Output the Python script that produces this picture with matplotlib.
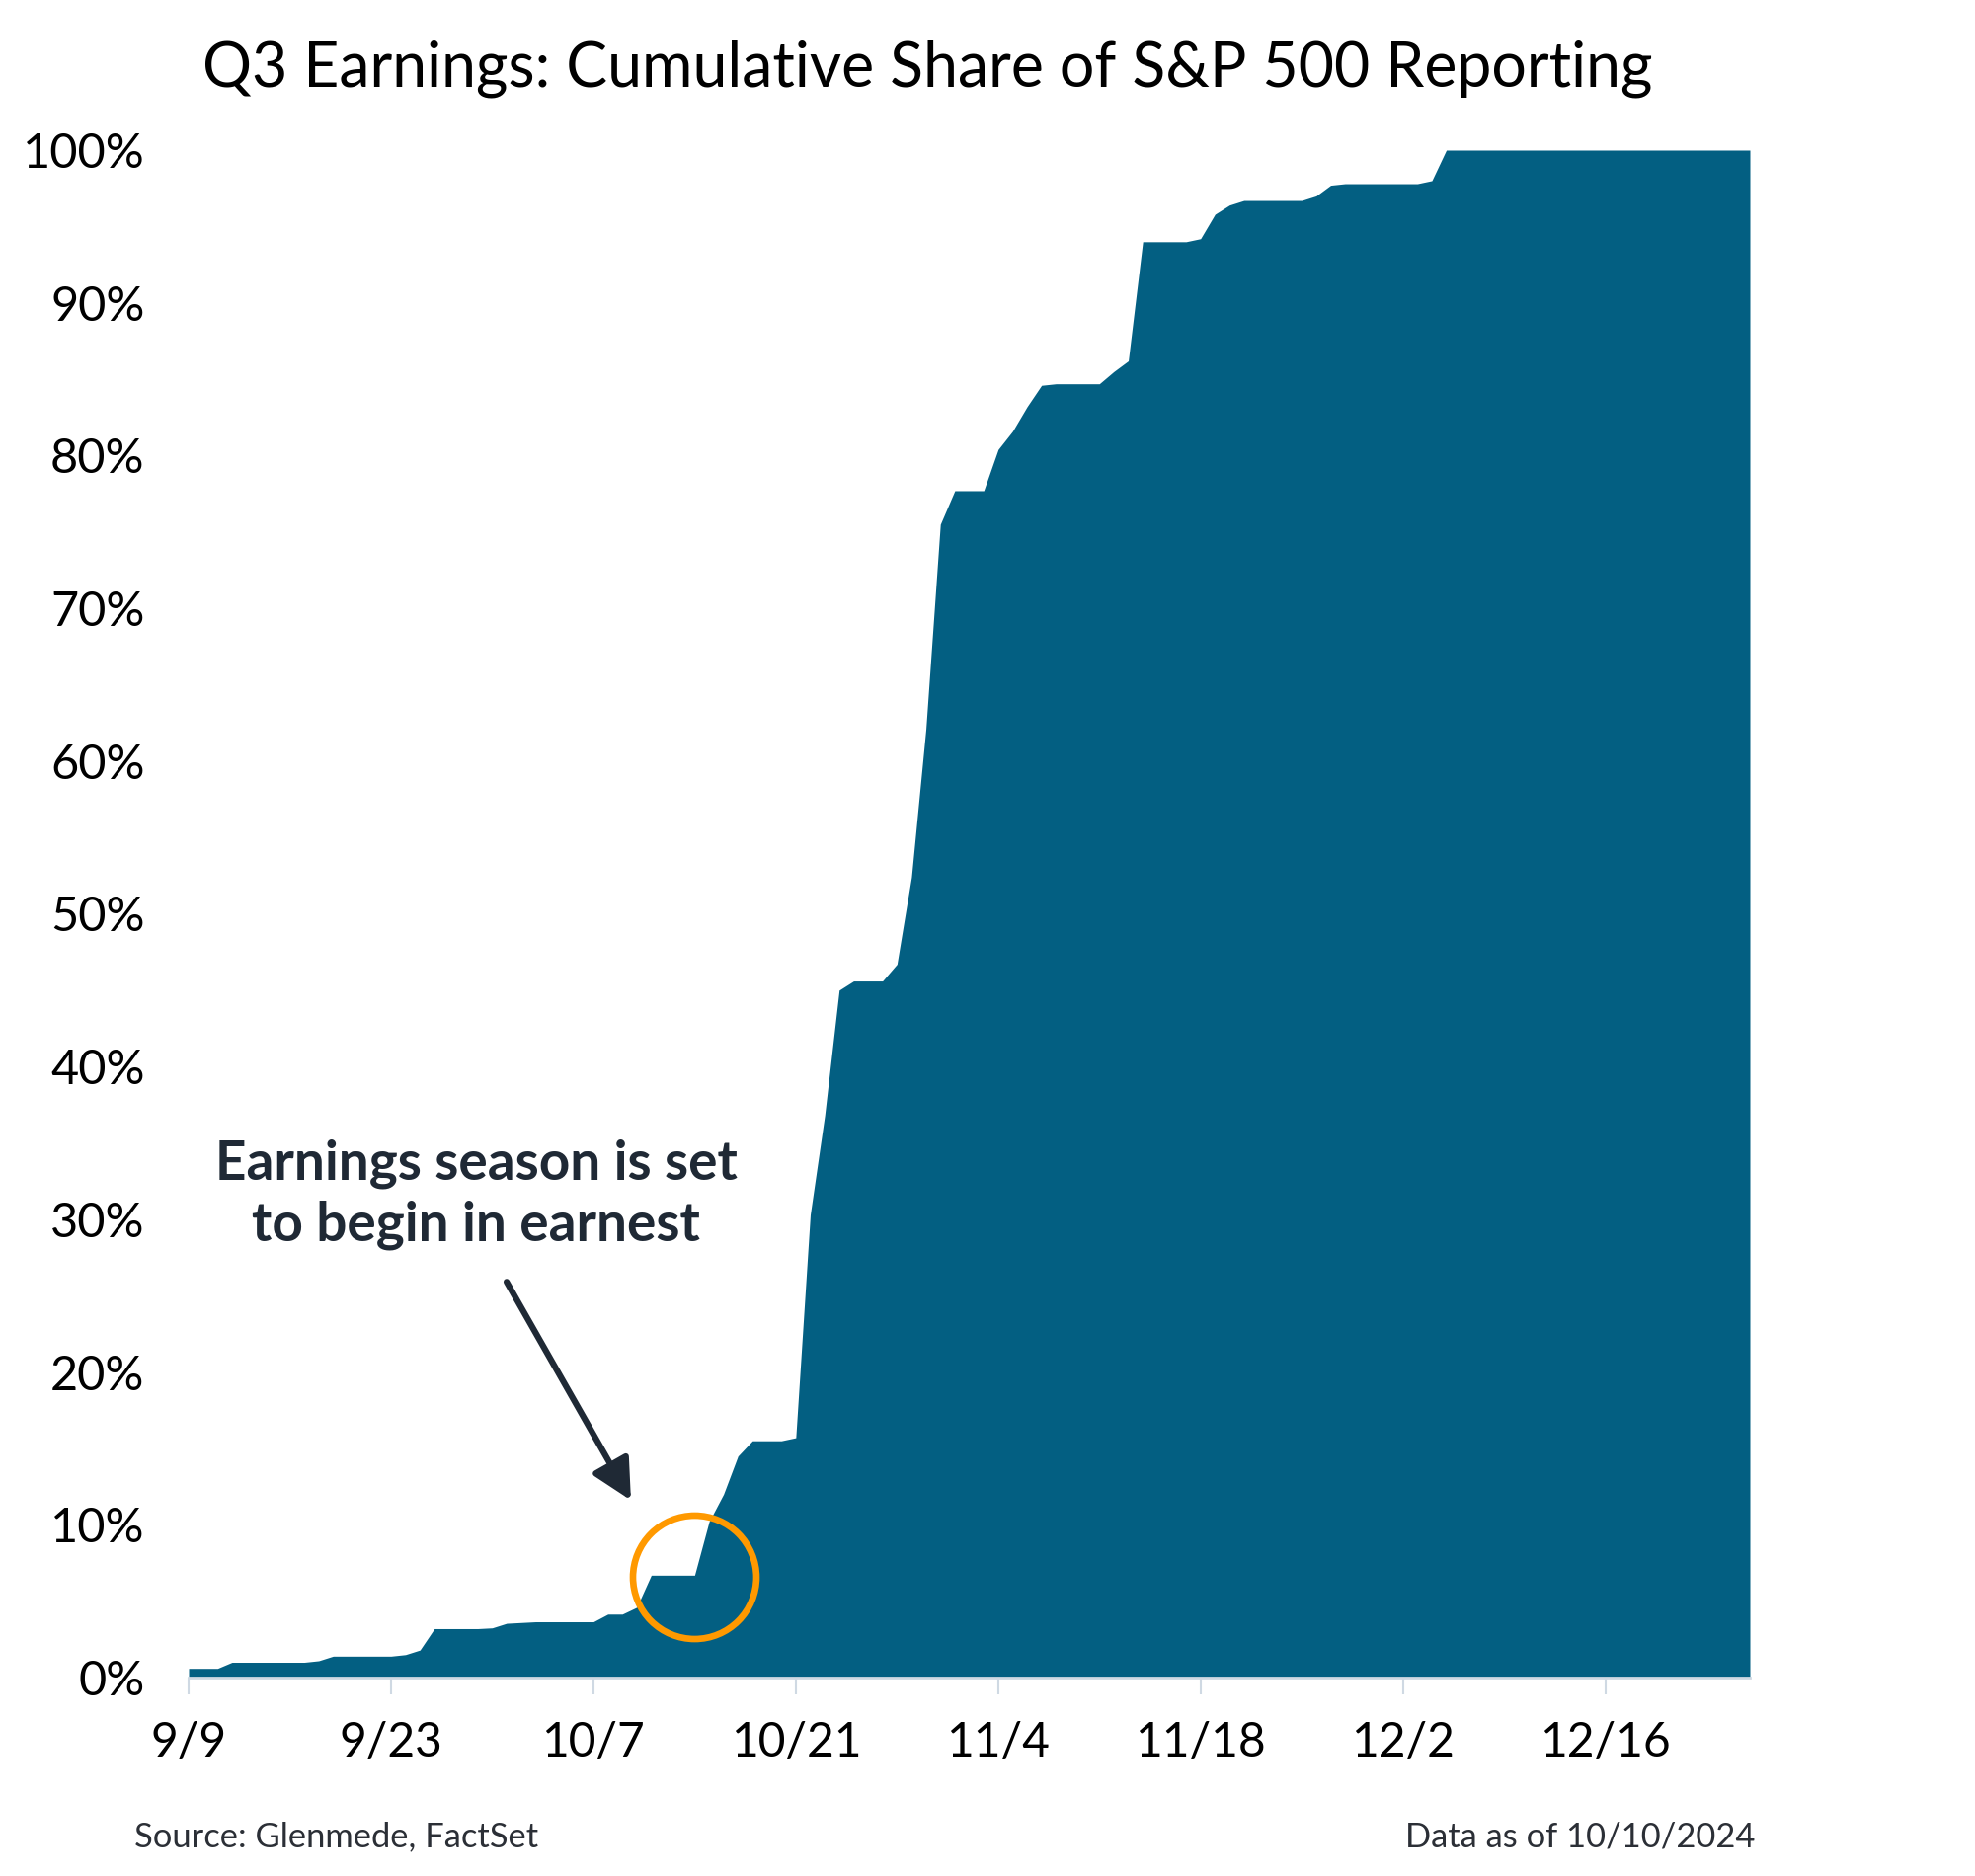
import matplotlib
matplotlib.use("Agg")
import matplotlib.pyplot as plt
import pandas as pd
import numpy as np

plt.rcParams['font.family'] = ['Lato', 'DejaVu Sans']

# ---- data ----
start_date = "2024-09-09"
end_date = "2024-12-26"
# cumulative share (%) of S&P 500 companies that have reported, daily
share_reported = [
    0.6, 0.6, 0.6, 1.0, 1.0, 1.0, 1.0, 1.0, 1.0, 1.1,      # 9/9 - 9/18
    1.4, 1.4, 1.4, 1.4, 1.4, 1.5, 1.8, 3.2, 3.2, 3.2,      # 9/19 - 9/28
    3.2, 3.25, 3.55, 3.6, 3.65, 3.65, 3.65, 3.65, 3.65, 4.15,  # 9/29 - 10/8
    4.15, 4.6, 6.7, 6.7, 6.7, 6.7, 10.2, 12.0, 14.5, 15.5,  # 10/9 - 10/18
    15.5, 15.5, 15.7, 30.3, 36.8, 45.0, 45.6, 45.6, 45.6, 46.7,  # 10/19 - 10/28
    52.4, 62.1, 75.5, 77.7, 77.7, 77.7, 80.4, 81.6, 83.2, 84.6,  # 10/29 - 11/7
    84.7, 84.7, 84.7, 84.7, 85.5, 86.2, 94.0, 94.0, 94.0, 94.0,  # 11/8 - 11/17
    94.2, 95.8, 96.4, 96.7, 96.7, 96.7, 96.7, 96.7, 97.0, 97.7,  # 11/18 - 11/27
    97.8, 97.8, 97.8, 97.8, 97.8, 97.8, 98.0, 100.0, 100.0, 100.0,  # 11/28 - 12/7
    100.0, 100.0, 100.0, 100.0, 100.0, 100.0, 100.0, 100.0, 100.0, 100.0,  # 12/8 - 12/17
    100.0, 100.0, 100.0, 100.0, 100.0, 100.0, 100.0, 100.0, 100.0,  # 12/18 - 12/26
]
ytick_values = [0, 10, 20, 30, 40, 50, 60, 70, 80, 90, 100]
title = "Q3 Earnings: Cumulative Share of S&P 500 Reporting"
annotation_text = "Earnings season is set\nto begin in earnest"
highlight_date = "2024-10-14"
source_text = "Source: Glenmede, FactSet"
asof_text = "Data as of 10/10/2024"

dates = pd.date_range(start_date, end_date, freq="D")
values = np.array(share_reported)
assert len(dates) == len(values)

# ---- styling ----
fill_color = "#035f82"
orange = "#ff9900"
dark = "#1f2935"
axis_color = "#cfd9e3"

fig = plt.figure(figsize=(20, 19), dpi=100)
ax = fig.add_axes([0.0955, 0.1058, 0.886 - 0.0955, 0.920 - 0.1058])

ax.fill_between(dates, 0, values, color=fill_color, linewidth=0, zorder=2)

ax.set_xlim(dates[0], dates[-1])
ax.set_ylim(0, 100)

# x ticks every 14 days from the start
xticks = pd.date_range(start_date, end_date, freq="14D")
ax.set_xticks(xticks)
ax.set_xticklabels([f"{d.month}/{d.day}" for d in xticks])
ax.set_yticks(ytick_values)
ax.set_yticklabels([f"{v}%" for v in ytick_values])

for s in ["top", "right", "left"]:
    ax.spines[s].set_visible(False)
ax.spines["bottom"].set_color(axis_color)
ax.spines["bottom"].set_linewidth(2)
ax.spines["bottom"].set_zorder(3)

ax.tick_params(axis="x", length=12, width=1.5, color=axis_color, pad=20,
               labelsize=34.5, labelcolor="black")
ax.tick_params(axis="y", length=0, pad=32, labelsize=35, labelcolor="black")

# title
fig.text(0.4695, 0.9635, title, ha="center", va="center", fontsize=45, color="black")

# highlight circle at the flat segment before the season starts
hd = pd.Timestamp(highlight_date)
hv = float(values[list(dates).index(hd)])
ax.plot([hd], [hv - 0.1], marker="o", markersize=90, markerfacecolor="none",
        markeredgecolor=orange, markeredgewidth=4.8, zorder=5, clip_on=False)

# annotation arrow + text
d0 = dates[0]
ax.annotate("", xy=(d0 + pd.Timedelta(days=30.6), 11.6),
            xytext=(d0 + pd.Timedelta(days=22.0), 25.9),
            arrowprops=dict(arrowstyle="-|>,head_length=0.55,head_width=0.28",
                            lw=4.5, color=dark, mutation_scale=45,
                            shrinkA=0, shrinkB=0), zorder=6)
ax.text(d0 + pd.Timedelta(days=19.9), 31.6, annotation_text, ha="center", va="center",
        fontsize=39.5, fontweight="bold", color=dark, linespacing=1.28, zorder=6)

# footer
fig.text(0.068, 0.021, source_text, ha="left", va="center", fontsize=24.8, color="#2b2f36")
fig.text(0.8885, 0.021, asof_text, ha="right", va="center", fontsize=24.8, color="#2b2f36")

fig.savefig("out.png", dpi=100, facecolor="white")
